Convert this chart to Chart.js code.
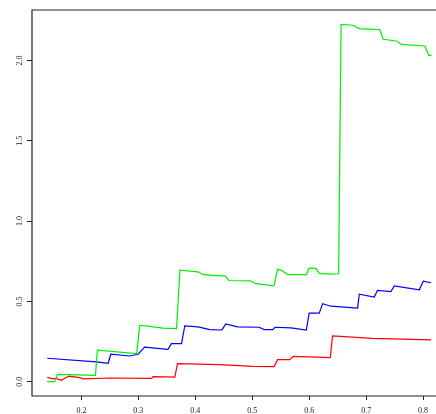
<!DOCTYPE html>
<html>
<head>
<meta charset="utf-8">
<script src="https://cdn.jsdelivr.net/npm/chart.js@4/dist/chart.umd.min.js"></script>
<style>
  html, body { margin: 0; padding: 0; background: #fff; }
  #wrap { width: 436px; height: 414px; }
</style>
</head>
<body>
<div id="wrap"><canvas id="c" width="436" height="414"></canvas></div>
<script>
const greenX = [0.140, 0.153, 0.158, 0.2246, 0.228, 0.297, 0.3025, 0.343, 0.367, 0.373, 0.405, 0.414, 0.443, 0.452, 0.459, 0.4975, 0.506, 0.538, 0.5445, 0.553, 0.562, 0.595, 0.600, 0.612, 0.6176, 0.638, 0.6517, 0.656, 0.677, 0.688, 0.724, 0.730, 0.7536, 0.762, 0.803, 0.810, 0.815];
const greenY = [0.000, 0.000, 0.046, 0.040, 0.196, 0.175, 0.352, 0.333, 0.330, 0.695, 0.684, 0.666, 0.659, 0.659, 0.630, 0.628, 0.610, 0.597, 0.700, 0.690, 0.667, 0.667, 0.707, 0.705, 0.674, 0.670, 0.672, 2.225, 2.219, 2.198, 2.192, 2.132, 2.121, 2.100, 2.090, 2.032, 2.032];

const blueX = [0.140, 0.226, 0.247, 0.2515, 0.285, 0.2995, 0.311, 0.352, 0.358, 0.3758, 0.3815, 0.405, 0.4255, 0.443, 0.447, 0.4536, 0.474, 0.512, 0.521, 0.536, 0.540, 0.568, 0.595, 0.600, 0.6176, 0.6236, 0.638, 0.685, 0.688, 0.7142, 0.720, 0.7436, 0.7494, 0.7933, 0.8004, 0.814];
const blueY = [0.146, 0.123, 0.115, 0.171, 0.160, 0.171, 0.215, 0.202, 0.237, 0.237, 0.347, 0.341, 0.324, 0.322, 0.324, 0.360, 0.341, 0.339, 0.324, 0.324, 0.339, 0.335, 0.322, 0.427, 0.427, 0.485, 0.470, 0.458, 0.545, 0.527, 0.568, 0.561, 0.597, 0.572, 0.626, 0.616];

const redX = [0.140, 0.148, 0.156, 0.165, 0.1707, 0.178, 0.197, 0.203, 0.250, 0.323, 0.326, 0.364, 0.3687, 0.443, 0.5005, 0.5385, 0.5445, 0.566, 0.572, 0.637, 0.641, 0.711, 0.814];
const redY = [0.027, 0.019, 0.019, 0.009, 0.021, 0.034, 0.025, 0.017, 0.023, 0.021, 0.031, 0.029, 0.112, 0.106, 0.096, 0.094, 0.137, 0.137, 0.158, 0.150, 0.285, 0.270, 0.260];

const xTicks = [0.2, 0.3, 0.4, 0.5, 0.6, 0.7, 0.8];
const yTicks = [0.0, 0.5, 1.0, 1.5, 2.0];

function pts(xs, ys) {
  return xs.map((x, i) => ({ x: x, y: ys[i] }));
}

// left / top / bottom frame, right side runs off the canvas
const framePlugin = {
  id: "frame",
  afterDraw(chart) {
    const { ctx, chartArea } = chart;
    ctx.save();
    ctx.strokeStyle = "#222";
    ctx.lineWidth = 1.2;
    ctx.beginPath();
    ctx.moveTo(chartArea.right + 2, chartArea.top);
    ctx.lineTo(chartArea.left, chartArea.top);
    ctx.lineTo(chartArea.left, chartArea.bottom);
    ctx.lineTo(chartArea.right + 2, chartArea.bottom);
    ctx.stroke();
    ctx.restore();
  },
};

const font = { family: "'Liberation Serif', 'DejaVu Serif', serif", size: 8 };

const ds = (data, color) => ({
  data: data,
  borderColor: color,
  borderWidth: 1.2,
  pointRadius: 0,
  tension: 0,
  fill: false,
});

new Chart(document.getElementById("c"), {
  type: "line",
  data: {
    datasets: [
      ds(pts(greenX, greenY), "#00ee00"),
      ds(pts(blueX, blueY), "#0000ff"),
      ds(pts(redX, redY), "#ff0000"),
    ],
  },
  options: {
    responsive: false,
    animation: false,
    events: [],
    layout: { padding: { top: 10, right: 0, left: 0, bottom: 0 } },
    plugins: { legend: { display: false }, tooltip: { enabled: false } },
    scales: {
      x: {
        type: "linear",
        min: 0.1132,
        max: 0.8227,
        afterFit: (s) => { s.height = 18; },
        afterBuildTicks: (s) => { s.ticks = xTicks.map((v) => ({ value: v })); },
        grid: { drawOnChartArea: false, drawTicks: true, tickLength: 4, color: "#222", lineWidth: 1 },
        border: { display: false },
        ticks: { font: font, color: "#222", padding: 6, maxRotation: 0, callback: (v) => v.toFixed(1) },
      },
      y: {
        type: "linear",
        min: -0.089,
        max: 2.314,
        afterFit: (s) => { s.width = 32; },
        afterBuildTicks: (s) => { s.ticks = yTicks.map((v) => ({ value: v })); },
        grid: { drawOnChartArea: false, drawTicks: true, tickLength: 5, color: "#222", lineWidth: 1 },
        border: { display: false },
        ticks: { font: font, color: "#222", padding: 2, minRotation: 90, maxRotation: 90, crossAlign: "center", callback: (v) => v.toFixed(1) },
      },
    },
  },
  plugins: [framePlugin],
});
</script>
</body>
</html>
